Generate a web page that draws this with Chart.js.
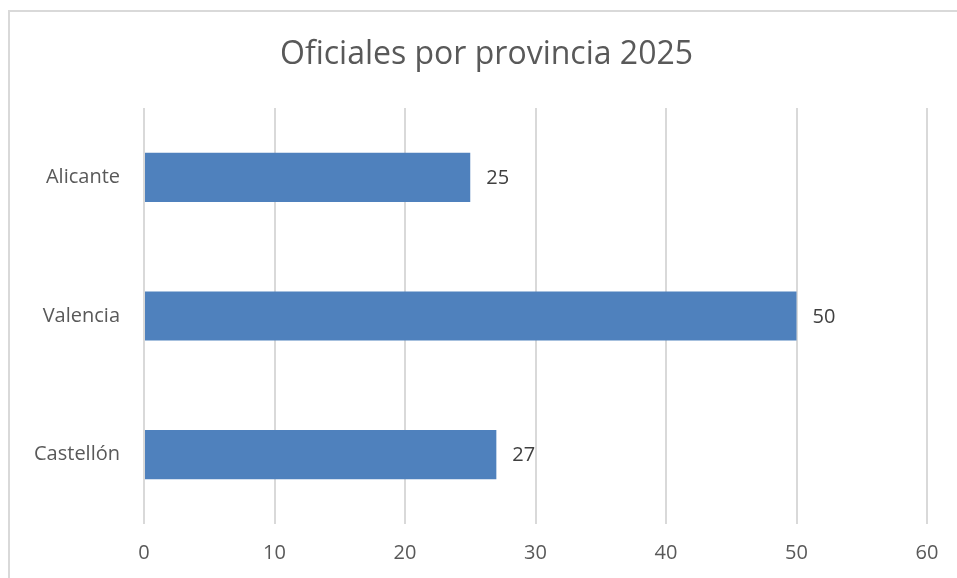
<!DOCTYPE html>
<html><head><meta charset="utf-8">
<script src="https://cdn.jsdelivr.net/npm/chart.js@4/dist/chart.umd.min.js"></script>
<style>html,body{margin:0;padding:0;background:#fff}#wrap{width:957px;height:578px;position:relative}</style>
</head><body><div id="wrap"><canvas id="c" width="957" height="578"></canvas></div>
<script>
const titleText = 'Oficiales por provincia 2025';
const categories = ['Alicante', 'Valencia', 'Castellón'];
const values = [25, 50, 27];
const xTicks = [0, 10, 20, 30, 40, 50, 60];

const FONT = "'Open Sans', sans-serif";
const TEXT = '#595959';

const decorPlugin = {
  id: 'decor',
  beforeDraw(chart) {
    const ctx = chart.ctx;
    ctx.save();
    ctx.strokeStyle = '#d9d9d9';
    ctx.lineWidth = 2;
    ctx.beginPath();
    ctx.moveTo(9, 600);
    ctx.lineTo(9, 11);
    ctx.lineTo(960, 11);
    ctx.stroke();
    ctx.font = "32px " + FONT;
    ctx.fillStyle = TEXT;
    ctx.textAlign = 'center';
    ctx.textBaseline = 'middle';
    ctx.fillText(titleText, 486.5, 55);
    ctx.restore();
  }
};
const labelPlugin = {
  id: 'labels',
  afterDatasetsDraw(chart) {
    const ctx = chart.ctx;
    const meta = chart.getDatasetMeta(0);
    ctx.save();
    ctx.font = "20px " + FONT;
    ctx.fillStyle = '#404040';
    ctx.textBaseline = 'middle';
    ctx.textAlign = 'left';
    meta.data.forEach((bar, i) => {
      ctx.fillText(String(values[i]), bar.x + 16, bar.y + 1);
    });
    ctx.restore();
  }
};

new Chart(document.getElementById('c'), {
  type: 'bar',
  data: {
    labels: categories,
    datasets: [{
      data: values,
      backgroundColor: '#4f81bd',
      borderWidth: 0,
      barPercentage: 0.71,
      categoryPercentage: 0.5
    }]
  },
  options: {
    indexAxis: 'y',
    responsive: false,
    animation: false,
    layout: { padding: { top: 108, right: 30, bottom: 0, left: 10 } },
    plugins: {
      legend: { display: false },
      tooltip: { enabled: false },
      title: { display: false }
    },
    scales: {
      x: {
        min: 0, max: 60,
        afterBuildTicks(s) { s.ticks = xTicks.map(v => ({ value: v })); },
        grid: { color: '#d9d9d9', lineWidth: 2, drawTicks: false },
        border: { display: false },
        ticks: { color: TEXT, font: { family: FONT, size: 20 }, padding: 17 },
        afterFit(s) { s.height = 54; }
      },
      y: {
        grid: { display: false, drawTicks: false },
        border: { display: false },
        ticks: { color: TEXT, font: { family: FONT, size: 20 }, padding: 24 },
        afterFit(s) { s.width = 134; }
      }
    }
  },
  plugins: [decorPlugin, labelPlugin]
});
</script></body></html>
